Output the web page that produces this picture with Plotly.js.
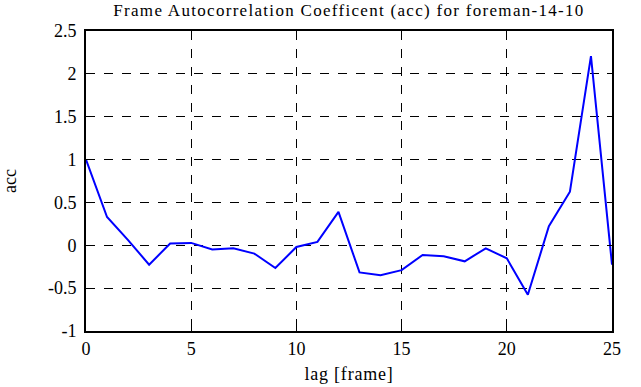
<!DOCTYPE html>
<html><head><meta charset="utf-8">
<script src="https://cdn.plot.ly/plotly-3.0.1.min.js"></script>
<style>html,body{margin:0;padding:0;background:#fff}
.gtitle{letter-spacing:1.3px}
.xtitle{letter-spacing:0.8px}
</style>
</head><body>
<div id="chart" style="width:641px;height:387px"></div>
<script>
const lags = [0,1,2,3,4,5,6,7,8,9,10,11,12,13,14,15,16,17,18,19,20,21,22,23,24,25];
const acc = [1.0,0.33,0.06,-0.226,0.02,0.028,-0.05,-0.035,-0.097,-0.265,-0.02,0.04,0.39,-0.316,-0.35,-0.29,-0.113,-0.128,-0.187,-0.035,-0.152,-0.577,0.222,0.625,2.206,-0.226];
const xTicks = [0,5,10,15,20,25];
const yTicks = [-1,-0.5,0,0.5,1,1.5,2,2.5];
const yTickText = ['-1','-0.5','0','0.5','1','1.5','2','2.5'];
const font = '"Liberation Serif", "Times New Roman", serif';
Plotly.newPlot('chart', [{
  x: lags, y: acc, type: 'scatter', mode: 'lines',
  line: {color: '#0000ff', width: 2}
}], {
  width: 641, height: 387,
  margin: {l: 86, r: 29, t: 31, b: 56},
  paper_bgcolor: '#fff', plot_bgcolor: '#fff',
  showlegend: false,
  font: {family: font, color: '#000'},
  title: {text: 'Frame Autocorrelation Coefficent (acc) for foreman-14-10', font: {family: font, size: 17, color: '#000'}, xref: 'paper', x: 0.5, xanchor: 'center', y: 0.99, yanchor: 'top'},
  xaxis: {
    range: [0, 25], tickvals: xTicks, ticktext: xTicks.map(String),
    ticks: 'inside', ticklen: 5, tickcolor: '#000', tickwidth: 1,
    showline: true, linecolor: '#000', linewidth: 2, mirror: 'ticks',
    showgrid: true, gridcolor: '#000', griddash: 'dash', gridwidth: 1,
    zeroline: false,
    tickfont: {family: font, size: 18, color: '#000'},
    title: {text: 'lag [frame]', font: {family: font, size: 18, color: '#000'}, standoff: 10}
  },
  yaxis: {
    range: [-1, 2.5], tickvals: yTicks, ticktext: yTickText,
    ticks: 'inside', ticklen: 5, tickcolor: '#000', tickwidth: 1,
    showline: true, linecolor: '#000', linewidth: 2, mirror: 'ticks',
    showgrid: true, gridcolor: '#000', griddash: 'dash', gridwidth: 1,
    zeroline: false, ticklabelstandoff: 4,
    tickfont: {family: font, size: 18, color: '#000'},
    title: {text: 'acc', font: {family: font, size: 18, color: '#000'}, standoff: 41}
  }
}, {displayModeBar: false, staticPlot: true});
</script>
</body></html>
